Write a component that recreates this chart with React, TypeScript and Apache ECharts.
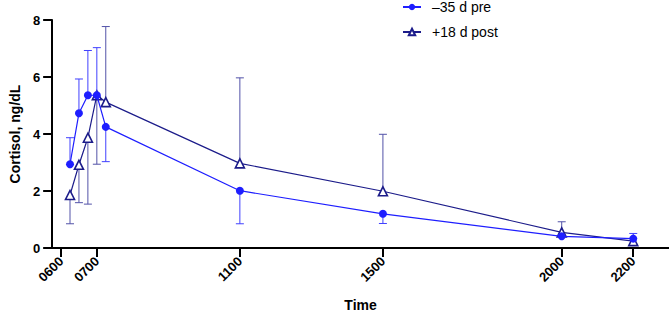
import React, { useEffect, useRef } from "react";
import * as echarts from "echarts";

const times = [6.25, 6.5, 6.75, 7, 7.25, 11, 15, 20, 22];
const preMean = [2.94, 4.73, 5.36, 5.36, 4.25, 2.01, 1.2, 0.41, 0.33];
const preErrEnd = [3.87, 5.93, 6.93, 7.03, 3.03, 0.85, 0.86, 0.41, 0.51];
const postMean = [1.86, 2.92, 3.87, 5.36, 5.12, 2.97, 1.99, 0.55, 0.24];
const postErrEnd = [0.85, 1.59, 1.54, 2.94, 7.77, 5.97, 3.99, 0.92, 0.24];
const tickHours = [6, 7, 11, 15, 20, 22];
const seriesNames = ["\u201335 d pre", "+18 d post"];

const PRE = "#1e1eff";
const POST = "#1c1c8a";
const PRE_ERR = "#4040ff";
const POST_ERR = "#5252a8";
const FONT = "'Liberation Sans', Arial, Helvetica, sans-serif";

function errRenderer(color: string) {
  return (params: any, api: any) => {
    const x = api.value(0);
    const m = api.value(1);
    const e = api.value(2);
    if (m === e) return { type: "group", children: [] };
    const p0 = api.coord([x, m]);
    const p1 = api.coord([x, e]);
    return {
      type: "group",
      children: [
        {
          type: "line",
          shape: { x1: p0[0], y1: p0[1], x2: p1[0], y2: p1[1] },
          style: { stroke: color, lineWidth: 1 },
        },
        {
          type: "line",
          shape: { x1: p1[0] - 4, y1: p1[1], x2: p1[0] + 4, y2: p1[1] },
          style: { stroke: color, lineWidth: 1 },
        },
      ],
    };
  };
}

export default function App() {
  const ref = useRef<HTMLDivElement>(null);
  useEffect(() => {
    if (!ref.current) return;
    const chart = echarts.init(ref.current, undefined, { renderer: "svg" });
    const preLine = times.map((t, i) => [t, preMean[i]]);
    const postLine = times.map((t, i) => [t, postMean[i]]);
    const preErr = times.map((t, i) => [t, preMean[i], preErrEnd[i]]);
    const postErr = times.map((t, i) => [t, postMean[i], postErrEnd[i]]);
    chart.setOption({
      animation: false,
      textStyle: { fontFamily: FONT },
      grid: { left: 38, top: 20, width: 632, height: 236 },
      legend: {
        data: seriesNames,
        orient: "vertical",
        left: 402,
        top: 0,
        padding: 0,
        itemWidth: 18,
        itemHeight: 8,
        itemGap: 11,
        textStyle: { fontSize: 14, color: "#000", fontFamily: FONT, padding: [0, 0, 0, 6] },
      },
      xAxis: {
        type: "value",
        min: 5.75,
        max: 23,
        name: "Time",
        nameLocation: "middle",
        nameGap: 50,
        nameTextStyle: { fontSize: 14, fontWeight: "bold", color: "#000", fontFamily: FONT },
        axisLine: { show: true, onZero: false, lineStyle: { color: "#000", width: 2 } },
        axisTick: { show: true, length: 9, lineStyle: { color: "#000", width: 2 }, customValues: tickHours },
        axisLabel: {
          customValues: tickHours,
          rotate: 45,
          margin: 11,
          fontSize: 13,
          fontWeight: "bold",
          color: "#000",
          fontFamily: FONT,
          formatter: (v: number) => String(Math.round(v * 100)).padStart(4, "0"),
        },
        splitLine: { show: false },
      },
      yAxis: {
        type: "value",
        min: 0,
        max: 8,
        interval: 2,
        name: "Cortisol, ng/dL",
        nameLocation: "middle",
        nameGap: 25,
        nameTextStyle: { fontSize: 14, fontWeight: "bold", color: "#000", fontFamily: FONT },
        axisLine: { show: true, lineStyle: { color: "#000", width: 2 } },
        axisTick: { show: true, length: 9, lineStyle: { color: "#000", width: 2 } },
        axisLabel: { margin: 12, fontSize: 13, fontWeight: "bold", color: "#000", fontFamily: FONT },
        splitLine: { show: false },
      },
      series: [
        {
          type: "custom",
          name: "postErr",
          data: postErr,
          renderItem: errRenderer(POST_ERR),
          encode: { x: 0, y: [1, 2] },
          z: 1,
          clip: false,
          silent: true,
        },
        {
          type: "line",
          name: seriesNames[1],
          data: postLine,
          symbol: "triangle",
          symbolSize: 9,
          showAllSymbol: true,
          lineStyle: { color: POST, width: 1.2 },
          itemStyle: { color: "#fff", borderColor: POST, borderWidth: 1.6 },
          z: 2,
        },
        {
          type: "custom",
          name: "preErr",
          data: preErr,
          renderItem: errRenderer(PRE_ERR),
          encode: { x: 0, y: [1, 2] },
          z: 3,
          clip: false,
          silent: true,
        },
        {
          type: "line",
          name: seriesNames[0],
          data: preLine,
          symbol: "circle",
          symbolSize: 8,
          showAllSymbol: true,
          lineStyle: { color: PRE, width: 1.2 },
          itemStyle: { color: PRE, borderWidth: 0 },
          z: 4,
        },
      ],
    });
    return () => chart.dispose();
  }, []);
  return (
    <div
      ref={ref}
      style={{ position: "absolute", left: 0, top: 0, width: 669, height: 317, background: "#fff" }}
    />
  );
}
